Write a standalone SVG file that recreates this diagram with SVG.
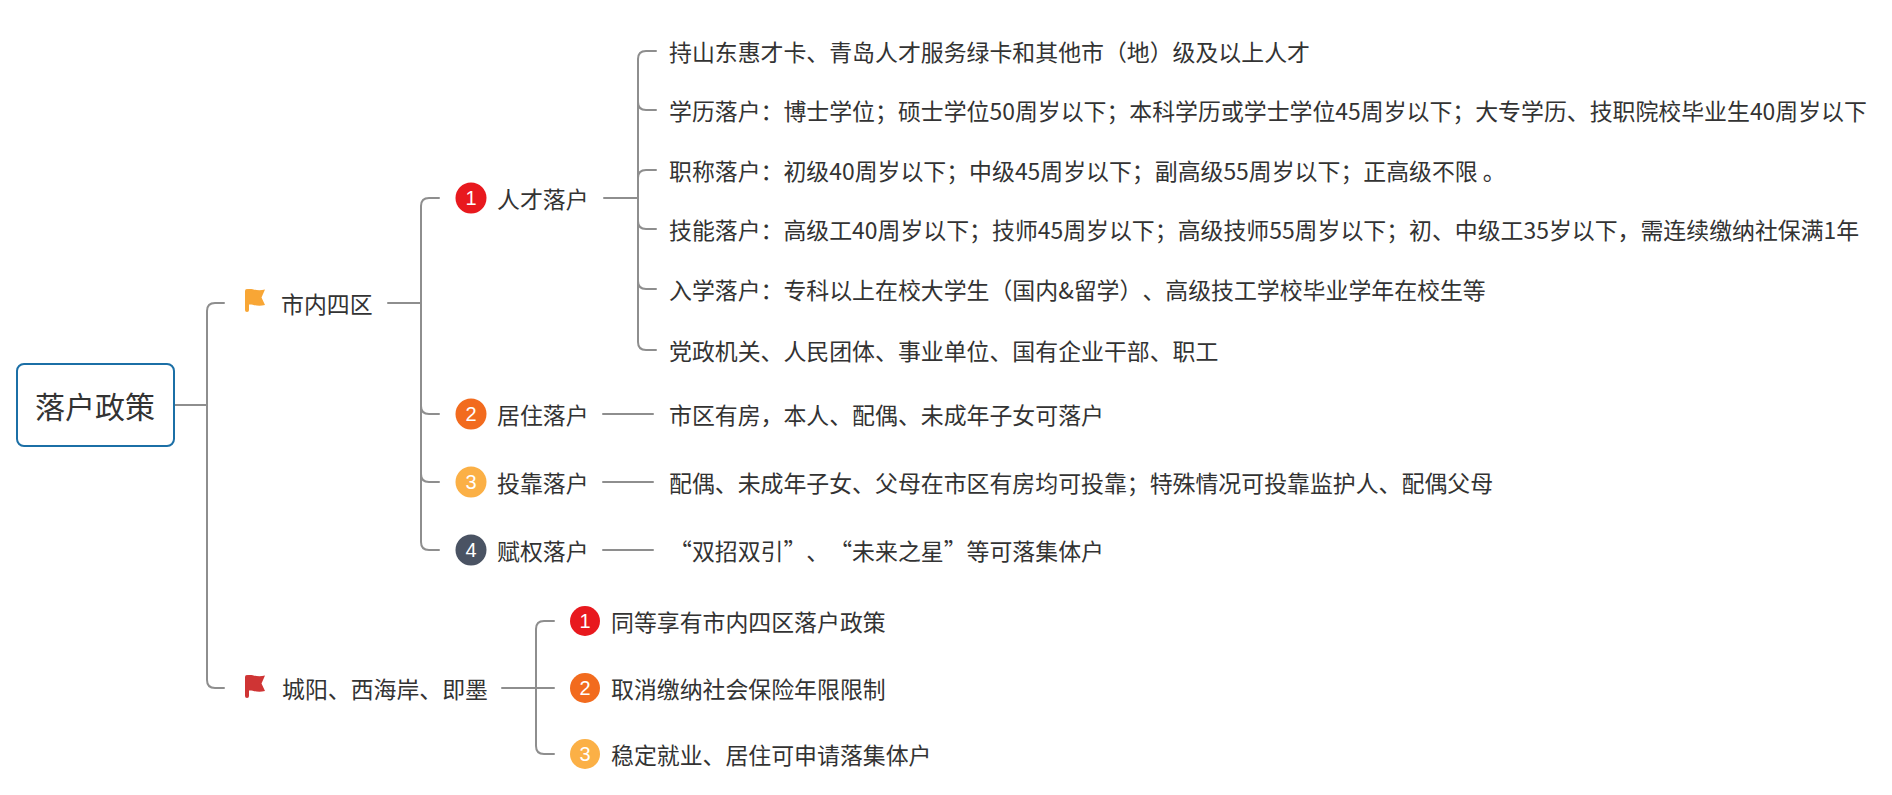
<svg xmlns="http://www.w3.org/2000/svg" width="1892" height="795" viewBox="0 0 1892 795">
<style>
.t{font-family:"Microsoft YaHei","Noto Sans CJK SC","Noto Sans",sans-serif;font-size:22.9px;fill:#333;dominant-baseline:central;text-spacing-trim:space-all}
.root{font-size:30px;text-anchor:middle}
.c{fill:none;stroke:#8e8e8e;stroke-width:2;stroke-linecap:round}
.num{font-family:"Liberation Sans",Arial,sans-serif;font-size:20px;fill:#fff;text-anchor:middle;dominant-baseline:central}
</style>
<defs>
<g id="flag">
<rect x="245" y="289" width="4" height="23" rx="2"/>
<path d="M247 289.5 C252 287.5 256 292 265 289.5 L261.5 297.5 L265 305 C256 307.5 252 303 247 305 Z" stroke-linejoin="round"/>
</g>
</defs>
<rect width="1892" height="795" fill="#fff"/>
<g id="connectors">
<path class="c" d="M174 405 H207"/>
<path class="c" d="M224 303 H215 Q207 303 207 311 V680 Q207 688 215 688 H224"/>
<path class="c" d="M388 303 H421"/>
<path class="c" d="M439 198 H429 Q421 198 421 206 V542 Q421 550 429 550 H439"/>
<path class="c" d="M421 406 Q421 414 429 414 H439"/>
<path class="c" d="M421 474 Q421 482 429 482 H439"/>
<path class="c" d="M604 198 H638"/>
<path class="c" d="M656 51 H646 Q638 51 638 59 V342 Q638 350 646 350 H656"/>
<path class="c" d="M638 102 Q638 110 646 110 H656"/>
<path class="c" d="M638 178 Q638 170 646 170 H656"/>
<path class="c" d="M638 221 Q638 229 646 229 H656"/>
<path class="c" d="M638 281 Q638 289 646 289 H656"/>
<path class="c" d="M603 414 H653"/>
<path class="c" d="M603 482 H653"/>
<path class="c" d="M603 550 H653"/>
<path class="c" d="M502 688 H554"/>
<path class="c" d="M554 621 H544 Q536 621 536 629 V746 Q536 754 544 754 H554"/>
</g>
<g id="root">
<rect x="17" y="364" width="157" height="82" rx="7" fill="#fff" stroke="#1b6fa6" stroke-width="2"/>
<text class="t root" x="95" y="405">落户政策</text>
</g>
<g id="n-sinei">
<use href="#flag" fill="#f8a635"/>
<text class="t" x="281" y="303">市内四区</text>
</g>
<g id="n-chengyang">
<use href="#flag" fill="#cf3434" transform="translate(0,386)"/>
<text class="t" x="282" y="688">城阳、西海岸、即墨</text>
</g>
<g id="n-rencai">
<circle cx="471" cy="198" r="15.5" fill="#e8191e"/>
<text class="num" x="471" y="198">1</text>
<text class="t" x="497" y="198">人才落户</text>
</g>
<g id="n-juzhu">
<circle cx="471" cy="414" r="15.5" fill="#f26b1e"/>
<text class="num" x="471" y="414">2</text>
<text class="t" x="497" y="414">居住落户</text>
</g>
<g id="n-toukao">
<circle cx="471" cy="482" r="15.5" fill="#fbb046"/>
<text class="num" x="471" y="482">3</text>
<text class="t" x="497" y="482">投靠落户</text>
</g>
<g id="n-fuquan">
<circle cx="471" cy="550" r="15.5" fill="#4a5363"/>
<text class="num" x="471" y="550">4</text>
<text class="t" x="497" y="550">赋权落户</text>
</g>
<g id="n-r1"><text class="t" x="669" y="51">持山东惠才卡、青岛人才服务绿卡和其他市（地）级及以上人才</text></g>
<g id="n-r2"><text class="t" x="669" y="110">学历落户：博士学位；硕士学位50周岁以下；本科学历或学士学位45周岁以下；大专学历、技职院校毕业生40周岁以下</text></g>
<g id="n-r3"><text class="t" x="669" y="170">职称落户：初级40周岁以下；中级45周岁以下；副高级55周岁以下；正高级不限 。</text></g>
<g id="n-r4"><text class="t" x="669" y="229">技能落户：高级工40周岁以下；技师45周岁以下；高级技师55周岁以下；初、中级工35岁以下，需连续缴纳社保满1年</text></g>
<g id="n-r5"><text class="t" x="669" y="289">入学落户：专科以上在校大学生（国内&amp;留学）、高级技工学校毕业学年在校生等</text></g>
<g id="n-r6"><text class="t" x="669" y="350">党政机关、人民团体、事业单位、国有企业干部、职工</text></g>
<g id="n-juzhu1"><text class="t" x="669" y="414">市区有房，本人、配偶、未成年子女可落户</text></g>
<g id="n-toukao1"><text class="t" x="669" y="482">配偶、未成年子女、父母在市区有房均可投靠；特殊情况可投靠监护人、配偶父母</text></g>
<g id="n-fuquan1"><text class="t" x="669" y="550">“双招双引”、“未来之星”等可落集体户</text></g>
<g id="n-c1">
<circle cx="585" cy="621" r="15" fill="#e8191e"/>
<text class="num" x="585" y="621">1</text>
<text class="t" x="611" y="621">同等享有市内四区落户政策</text>
</g>
<g id="n-c2">
<circle cx="585" cy="688" r="15" fill="#f26b1e"/>
<text class="num" x="585" y="688">2</text>
<text class="t" x="611" y="688">取消缴纳社会保险年限限制</text>
</g>
<g id="n-c3">
<circle cx="585" cy="754" r="15" fill="#fbb046"/>
<text class="num" x="585" y="754">3</text>
<text class="t" x="611" y="754">稳定就业、居住可申请落集体户</text>
</g>
</svg>
